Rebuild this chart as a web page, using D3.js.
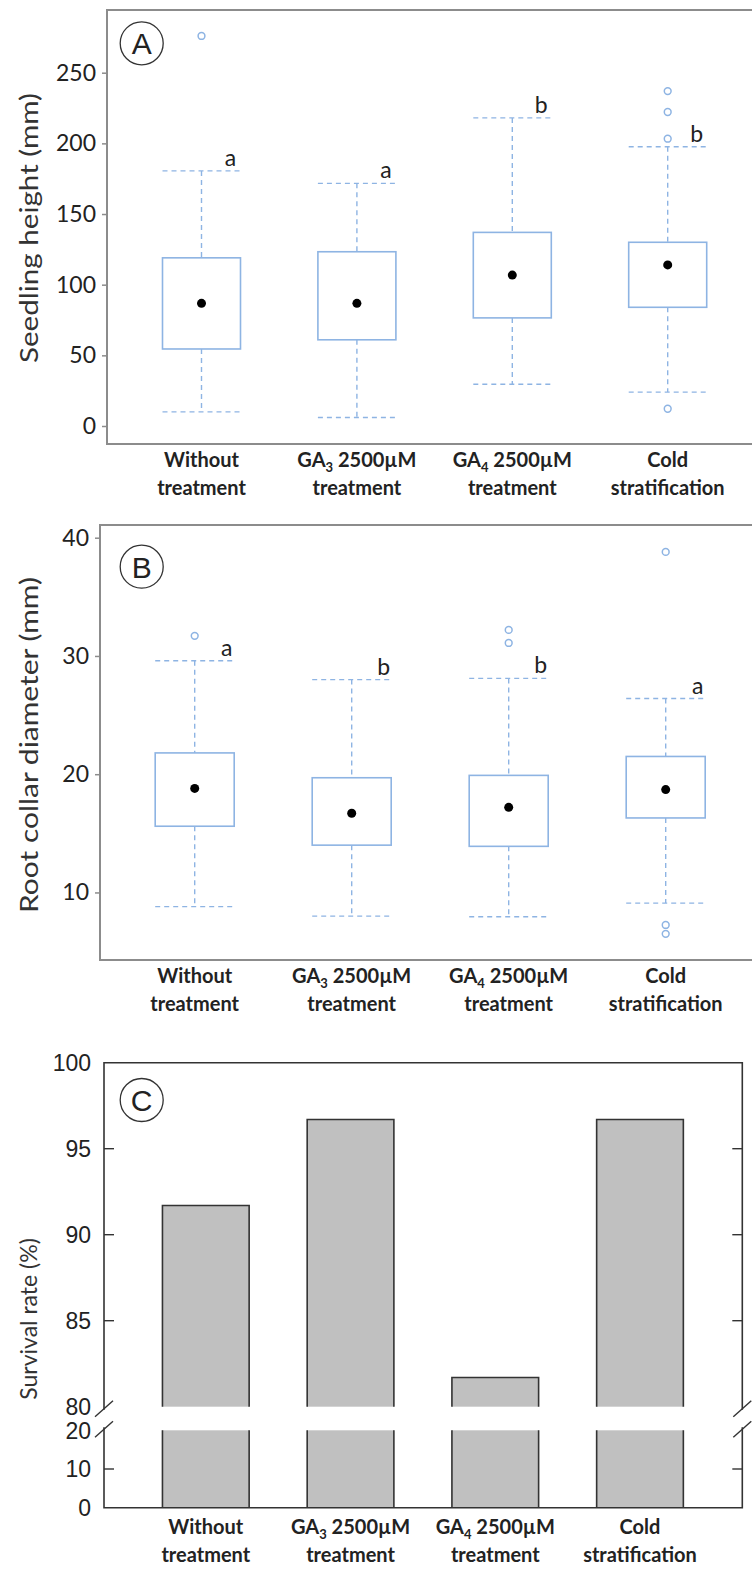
<!DOCTYPE html>
<html>
<head>
<meta charset="utf-8">
<script src="https://cdn.jsdelivr.net/npm/d3@7"></script>
<style>
  html, body { margin: 0; padding: 0; background: #fff; }
  svg { display: block; }
</style>
</head>
<body>
<svg id="chart" width="752" height="1579"></svg>
<script>
// ---------------- DATA ----------------
const categories = ["Without treatment", "GA3 2500µM treatment", "GA4 2500µM treatment", "Cold stratification"];
// x-axis label pieces: [main, subscript, rest] for line 1, then line 2
const labelLine1 = [["Without", "", ""], ["GA", "3", " 2500µM"], ["GA", "4", " 2500µM"], ["Cold", "", ""]];
const labelLine2 = ["treatment", "treatment", "treatment", "stratification"];

// Panel A: seedling height (mm)
const heightLow     = [10, 6, 29.5, 24];
const heightQ1      = [54.5, 61, 76.5, 84];
const heightMean    = [86.8, 86.8, 106.8, 114];
const heightQ3      = [119, 123.3, 137, 130];
const heightHigh    = [180.5, 171.7, 218, 197.6];
const heightOutliers = [[276], [], [], [237, 222.2, 203.3, 12.2]];
const heightLetters = ["a", "a", "b", "b"];
const heightTicks   = [0, 50, 100, 150, 200, 250];

// Panel B: root collar diameter (mm)
const diamLow     = [8.8, 8.0, 7.95, 9.1];
const diamQ1      = [15.6, 14.0, 13.9, 16.3];
const diamMean    = [18.8, 16.7, 17.2, 18.7];
const diamQ3      = [21.8, 19.7, 19.9, 21.5];
const diamHigh    = [29.6, 28.0, 28.1, 26.4];
const diamOutliers = [[31.7], [], [32.2, 31.1], [38.8, 7.25, 6.5]];
const diamLetters = ["a", "b", "b", "a"];
const diamTicks   = [10, 20, 30, 40];

// Panel C: survival rate (%)
const survival = [91.7, 96.7, 81.7, 96.7];
const survivalTicksUpper = [80, 85, 90, 95, 100];
const survivalTicksLower = [0, 10, 20];

// ---------------- DRAW ----------------
const svg = d3.select("#chart");
const BLUE = "#8eb4e3";
const FRAME_GREY = "#8c8c8c";
const TXT = "#222";
const tickFont = "Lato, 'Open Sans', sans-serif";

function xLabels(g, x, yTop) {
  categories.forEach((c, i) => {
    const t1 = g.append("text")
      .attr("x", x(c)).attr("y", yTop)
      .attr("text-anchor", "middle")
      .attr("font-family", tickFont).attr("font-weight", "bold")
      .attr("font-size", 20).attr("fill", TXT);
    const [m, s, r] = labelLine1[i];
    t1.append("tspan").text(m);
    if (s) {
      t1.append("tspan").text(s).attr("font-size", 13).attr("dy", 5);
      t1.append("tspan").text(r).attr("dy", -5);
    }
    g.append("text")
      .attr("x", x(c)).attr("y", yTop + 28)
      .attr("text-anchor", "middle")
      .attr("font-family", tickFont).attr("font-weight", "bold")
      .attr("font-size", 20).attr("fill", TXT)
      .text(labelLine2[i]);
  });
}

function panelLabel(g, cx, cy, letter) {
  g.append("circle").attr("cx", cx).attr("cy", cy).attr("r", 21.5)
    .attr("fill", "none").attr("stroke", "#333").attr("stroke-width", 1.3);
  g.append("text").attr("x", cx).attr("y", cy + 11)
    .attr("text-anchor", "middle")
    .attr("font-family", "'Liberation Sans', Arial, sans-serif")
    .attr("font-size", 30).attr("fill", "#222").text(letter);
}

function yTitle(g, cx, cy, len, text, size) {
  const t = g.append("text")
    .attr("transform", `translate(${cx},${cy}) rotate(-90)`)
    .attr("text-anchor", "middle").attr("dominant-baseline", "central")
    .attr("font-family", tickFont).attr("font-size", size || 25).attr("fill", "#333")
    .text(text);
  if (len) t.attr("textLength", len).attr("lengthAdjust", "spacingAndGlyphs");
}

function boxPanel(opt) {
  const g = svg.append("g");
  const x = d3.scalePoint().domain(categories).range(opt.xRange);
  const y = d3.scaleLinear().domain(opt.yDomain).range(opt.yRange);
  const f = opt.frame;
  // frame
  g.append("rect").attr("x", f.x0).attr("y", f.y0)
    .attr("width", f.x1 - f.x0).attr("height", f.y1 - f.y0)
    .attr("fill", "none").attr("stroke", FRAME_GREY).attr("stroke-width", 2);
  // y axis
  const axis = d3.axisLeft(y).tickValues(opt.ticks).tickSize(5).tickPadding(6).tickFormat(d3.format("d"));
  const ag = g.append("g").attr("transform", `translate(${f.x0},0)`).call(axis);
  ag.select(".domain").remove();
  ag.selectAll(".tick line").attr("stroke", FRAME_GREY).attr("stroke-width", 1.5);
  ag.selectAll(".tick text").attr("font-family", tickFont).attr("font-size", 23).attr("fill", TXT);

  const hw = opt.boxHalf;
  categories.forEach((c, i) => {
    const cx = x(c);
    // whiskers
    g.append("line").attr("x1", cx).attr("x2", cx)
      .attr("y1", y(opt.high[i])).attr("y2", y(opt.q3[i]))
      .attr("stroke", BLUE).attr("stroke-width", 1.4).attr("stroke-dasharray", "5,4");
    g.append("line").attr("x1", cx).attr("x2", cx)
      .attr("y1", y(opt.q1[i])).attr("y2", y(opt.low[i]))
      .attr("stroke", BLUE).attr("stroke-width", 1.4).attr("stroke-dasharray", "5,4");
    [opt.high[i], opt.low[i]].forEach(v => {
      g.append("line").attr("x1", cx - hw).attr("x2", cx + hw)
        .attr("y1", y(v)).attr("y2", y(v))
        .attr("stroke", BLUE).attr("stroke-width", 1.4).attr("stroke-dasharray", "5,4");
    });
    // box
    g.append("rect").attr("x", cx - hw).attr("y", y(opt.q3[i]))
      .attr("width", 2 * hw).attr("height", y(opt.q1[i]) - y(opt.q3[i]))
      .attr("fill", "#fff").attr("stroke", BLUE).attr("stroke-width", 1.6);
    // mean dot
    g.append("circle").attr("cx", cx).attr("cy", y(opt.mean[i])).attr("r", 4.5).attr("fill", "#000");
    // outliers
    opt.outliers[i].forEach(v => {
      g.append("circle").attr("cx", cx).attr("cy", y(v)).attr("r", 3.4)
        .attr("fill", "none").attr("stroke", BLUE).attr("stroke-width", 1.5);
    });
    // letters
    g.append("text").attr("x", cx + opt.letterDx).attr("y", y(opt.high[i]) - 5)
      .attr("text-anchor", "middle").attr("font-family", tickFont)
      .attr("font-size", 23).attr("fill", TXT).text(opt.letters[i]);
  });
  xLabels(g, x, opt.labelY);
  panelLabel(g, opt.circle[0], opt.circle[1], opt.letter);
  yTitle(g, 28, opt.titleY, opt.titleLen, opt.title);
}

boxPanel({
  xRange: [201.5, 667.7], yDomain: [0, 250], yRange: [426, 72.7],
  frame: { x0: 107, y0: 10, x1: 764, y1: 444 }, ticks: heightTicks,
  boxHalf: 39, low: heightLow, q1: heightQ1, mean: heightMean, q3: heightQ3, high: heightHigh,
  outliers: heightOutliers, letters: heightLetters, letterDx: 29,
  labelY: 467, circle: [141.7, 43.3], letter: "A",
  titleY: 228, titleLen: 270, title: "Seedling height (mm)"
});

boxPanel({
  xRange: [194.7, 665.7], yDomain: [0, 40], yRange: [1010.7, 537.7],
  frame: { x0: 100, y0: 525, x1: 764, y1: 960 }, ticks: diamTicks,
  boxHalf: 39.5, low: diamLow, q1: diamQ1, mean: diamMean, q3: diamQ3, high: diamHigh,
  outliers: diamOutliers, letters: diamLetters, letterDx: 32,
  labelY: 983, circle: [141.7, 566.7], letter: "B",
  titleY: 745, titleLen: 336, title: "Root collar diameter (mm)"
});

// ---------------- Panel C ----------------
(function () {
  const g = svg.append("g");
  const F = { x0: 104, y0: 1062.7, x1: 742.3, y1: 1507.7 };
  const x = d3.scalePoint().domain(categories).range([205.8, 640]);
  const yU = d3.scaleLinear().domain([80, 100]).range([1406.7, F.y0]);
  const yL = d3.scaleLinear().domain([0, 20]).range([F.y1, 1430.3]);
  const bw = 86.7;
  const DARK = "#333";

  // bars
  categories.forEach((c, i) => {
    const l = x(c) - bw / 2, r = x(c) + bw / 2;
    const top = yU(survival[i]), brkU = yU(80), brkL = yL(20);
    g.append("rect").attr("x", l).attr("y", top).attr("width", bw).attr("height", brkU - top).attr("fill", "#c0c0c0");
    g.append("rect").attr("x", l).attr("y", brkL).attr("width", bw).attr("height", F.y1 - brkL).attr("fill", "#c0c0c0");
    g.append("path").attr("d", `M${l},${brkU}V${top}H${r}V${brkU}M${l},${brkL}V${F.y1}M${r},${brkL}V${F.y1}`)
      .attr("fill", "none").attr("stroke", DARK).attr("stroke-width", 1.6);
  });

  // frame lines with break gaps
  const gapTop = yU(80) + 3, gapBot = yL(20) - 3;
  g.append("path").attr("d",
      `M${F.x0},${gapTop}V${F.y0}H${F.x1}V${gapTop}` +
      `M${F.x0},${gapBot}V${F.y1}H${F.x1}V${gapBot}`)
    .attr("fill", "none").attr("stroke", DARK).attr("stroke-width", 1.6);

  // break slashes
  [F.x0, F.x1].forEach(ax => {
    [yU(80) + 2, yL(20) - 1].forEach(cy => {
      g.append("line").attr("x1", ax - 9).attr("y1", cy + 8).attr("x2", ax + 9).attr("y2", cy - 8)
        .attr("stroke", DARK).attr("stroke-width", 1.4);
    });
  });

  // ticks (inward, both sides)
  const tickVals = [[yU, [85, 90, 95]], [yL, [10]]];
  tickVals.forEach(([sc, vals]) => vals.forEach(v => {
    g.append("line").attr("x1", F.x0).attr("x2", F.x0 + 10).attr("y1", sc(v)).attr("y2", sc(v)).attr("stroke", DARK).attr("stroke-width", 1.4);
    g.append("line").attr("x1", F.x1 - 10).attr("x2", F.x1).attr("y1", sc(v)).attr("y2", sc(v)).attr("stroke", DARK).attr("stroke-width", 1.4);
  }));

  // tick labels
  const lab = [];
  survivalTicksUpper.forEach(v => lab.push([v, yU(v)]));
  survivalTicksLower.forEach(v => lab.push([v, yL(v)]));
  lab.forEach(([v, yy]) => {
    g.append("text").attr("x", 91).attr("y", yy).attr("dy", "0.36em")
      .attr("text-anchor", "end").attr("font-family", "'Liberation Sans', Arial, sans-serif")
      .attr("font-size", 23).attr("fill", TXT).text(v);
  });

  xLabels(g, x, 1534);
  panelLabel(g, 141.7, 1100, "C");
  yTitle(g, 28, 1319, 0, "Survival rate (%)", 23);
})();
</script>
</body>
</html>
